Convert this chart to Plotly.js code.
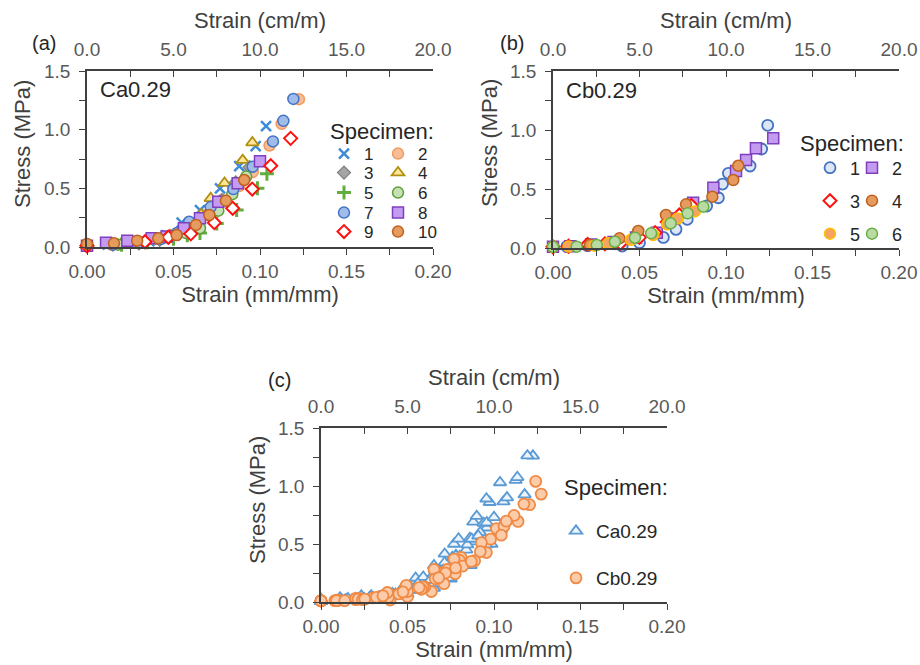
<!DOCTYPE html>
<html>
<head>
<meta charset="utf-8">
<script src="https://cdn.plot.ly/plotly-3.0.1.min.js"></script>
<style>html,body{margin:0;padding:0;background:#fff;}#chart{width:920px;height:665px;}</style>
</head>
<body>
<div id="chart"></div>
<script>
// ---------- Panel (a): Ca0.29, specimens 1-10 (strain mm/mm, stress MPa) ----------
const a1x = [0, 0.012, 0.025, 0.036, 0.046, 0.0547, 0.0653, 0.0769, 0.088, 0.0975, 0.1035];
const a1y = [0.01, 0.02, 0.03, 0.05, 0.10, 0.207, 0.315, 0.50, 0.69, 0.86, 1.03];
const a2x = [0, 0.014, 0.028, 0.040, 0.050, 0.060, 0.068, 0.078, 0.088, 0.0958, 0.1055, 0.1125, 0.1225];
const a2y = [0.01, 0.02, 0.04, 0.07, 0.10, 0.17, 0.27, 0.40, 0.52, 0.64, 0.865, 1.05, 1.26];
const a3x = [0, 0.015, 0.030, 0.042, 0.053, 0.062, 0.070, 0.078, 0.086, 0.094];
const a3y = [0.01, 0.02, 0.03, 0.06, 0.11, 0.18, 0.28, 0.40, 0.55, 0.68];
const a4x = [0, 0.020, 0.035, 0.048, 0.058, 0.066, 0.0715, 0.0795, 0.090, 0.0956];
const a4y = [0.01, 0.03, 0.05, 0.10, 0.18, 0.28, 0.415, 0.545, 0.74, 0.89];
const a5x = [0, 0.020, 0.035, 0.050, 0.058, 0.0653, 0.075, 0.0865, 0.0985, 0.104];
const a5y = [0.01, 0.02, 0.04, 0.07, 0.10, 0.12, 0.20, 0.315, 0.50, 0.625];
const a6x = [0, 0.018, 0.033, 0.047, 0.057, 0.0653, 0.0759, 0.084, 0.092];
const a6y = [0.01, 0.02, 0.04, 0.08, 0.12, 0.16, 0.31, 0.45, 0.60];
const a7x = [0, 0.015, 0.030, 0.043, 0.052, 0.0591, 0.0715, 0.0846, 0.0958, 0.1075, 0.1135, 0.1193];
const a7y = [0.01, 0.02, 0.04, 0.07, 0.12, 0.215, 0.34, 0.494, 0.685, 0.90, 1.075, 1.262];
const a8x = [0, 0.011, 0.0233, 0.0374, 0.046, 0.056, 0.0653, 0.0759, 0.0871, 0.100];
const a8y = [0.01, 0.037, 0.054, 0.074, 0.09, 0.159, 0.245, 0.386, 0.543, 0.73];
const a9x = [0, 0.0335, 0.047, 0.060, 0.0736, 0.0842, 0.0955, 0.1062, 0.1177];
const a9y = [0.01, 0.045, 0.083, 0.112, 0.207, 0.33, 0.494, 0.693, 0.926];
const a10x = [0, 0.0156, 0.029, 0.0412, 0.0518, 0.063, 0.0707, 0.0803, 0.0909];
const a10y = [0.026, 0.031, 0.054, 0.074, 0.102, 0.188, 0.273, 0.395, 0.571];

// ---------- Panel (b): Cb0.29, specimens 1-6 ----------
const b1x = [0, 0.008, 0.020, 0.040, 0.050, 0.0638, 0.0711, 0.0776, 0.0888, 0.0956, 0.098, 0.1014, 0.1139, 0.1206, 0.1241];
const b1y = [0.01, 0.012, 0.02, 0.017, 0.045, 0.09, 0.158, 0.243, 0.356, 0.426, 0.542, 0.633, 0.695, 0.839, 1.04];
const b2x = [0, 0.010, 0.022, 0.035, 0.048, 0.060, 0.070, 0.081, 0.0927, 0.1058, 0.1116, 0.1173, 0.1273];
const b2y = [0.01, 0.015, 0.03, 0.05, 0.09, 0.13, 0.25, 0.384, 0.511, 0.653, 0.746, 0.845, 0.93];
const b3x = [0, 0.009, 0.020, 0.030, 0.039, 0.050, 0.059, 0.066, 0.073, 0.080];
const b3y = [0.01, 0.015, 0.03, 0.035, 0.04, 0.09, 0.13, 0.22, 0.28, 0.36];
const b4x = [0, 0.0214, 0.0384, 0.0493, 0.0653, 0.0769, 0.0921, 0.1042, 0.1071];
const b4y = [0.01, 0.025, 0.082, 0.144, 0.28, 0.37, 0.435, 0.576, 0.697];
const b5x = [0, 0.009, 0.024, 0.032, 0.045, 0.058, 0.066, 0.072, 0.082];
const b5y = [0.01, 0.012, 0.02, 0.04, 0.07, 0.11, 0.20, 0.25, 0.31];
const b6x = [0, 0.0137, 0.0253, 0.0358, 0.0474, 0.0567, 0.068, 0.0778, 0.0869];
const b6y = [0.01, 0.011, 0.025, 0.053, 0.087, 0.124, 0.209, 0.294, 0.35];

// ---------- labels ----------
const specA = ['1','2','3','4','5','6','7','8','9','10'];
const specB = ['1','2','3','4','5','6'];
const groupNames = ['Ca0.29', 'Cb0.29'];
const panelLabels = ['(a)', '(b)', '(c)'];
const topTitle = 'Strain (cm/m)';
const bottomTitle = 'Strain (mm/mm)';
const yTitle = 'Stress (MPa)';
const legendTitle = 'Specimen:';

// ---------- styles ----------
const FONT = 'Liberation Sans, Arial, sans-serif';
const W = 920, H = 665;
const px = v => v / W;
const py = v => 1 - v / H;

const aX = [a1x,a2x,a3x,a4x,a5x,a6x,a7x,a8x,a9x,a10x];
const aY = [a1y,a2y,a3y,a4y,a5y,a6y,a7y,a8y,a9y,a10y];
const bX = [b1x,b2x,b3x,b4x,b5x,b6x];
const bY = [b1y,b2y,b3y,b4y,b5y,b6y];

const aStyle = [
  {symbol:'x-thin', size:10, color:'#3E8BD8', line:{color:'#3E8BD8', width:2.5}},
  {symbol:'circle', size:11, color:'#F7BD96', line:{color:'#F29B5E', width:1.5}},
  {symbol:'diamond', size:10, color:'#A5A5A5', line:{color:'#7F7F7F', width:1.2}},
  {symbol:'triangle-up', size:11, color:'#FFE699', line:{color:'#B08F10', width:1.8}},
  {symbol:'cross-thin', size:10, color:'#5FAE3E', line:{color:'#5FAE3E', width:3}},
  {symbol:'circle', size:11, color:'#C5E0B4', line:{color:'#5E9E3C', width:1.5}},
  {symbol:'circle', size:11, color:'#A0BDEA', line:{color:'#4472C4', width:1.5}},
  {symbol:'square', size:11, color:'#C39BF0', line:{color:'#7F3FBF', width:1.5}},
  {symbol:'diamond', size:10, color:'#FFFFFF', line:{color:'#FF1010', width:2}},
  {symbol:'circle', size:11, color:'#E59A5E', line:{color:'#C0601E', width:1.5}}
];
const bStyle = [
  {symbol:'circle', size:11, color:'#DCE6F5', line:{color:'#4472C4', width:1.8}},
  {symbol:'square', size:11, color:'#C39BF0', line:{color:'#7F3FBF', width:1.5}},
  {symbol:'diamond', size:10, color:'#FFFFFF', line:{color:'#FF1010', width:2}},
  {symbol:'circle', size:11, color:'#E59A5E', line:{color:'#C0601E', width:1.5}},
  {symbol:'circle', size:11, color:'#F4A460', line:{color:'#FFC000', width:1.5}},
  {symbol:'circle', size:11, color:'#B9DBA3', line:{color:'#6AAE45', width:1.5}}
];
const cStyle = [
  {symbol:'triangle-up', size:11, color:'#EEF4FB', line:{color:'#5B9BD5', width:1.8}},
  {symbol:'circle', size:11, color:'#FBCBAA', line:{color:'#F08A44', width:1.8}}
];

// legend slot positions (marker centre x, row centre y) in pixels
const aLegPos = [[344,154],[398,154],[344,173],[398,173],[344,193],[398,193],[344,213],[398,213],[344,232],[398,232]];
const bLegPos = [[830,168],[872,168],[830,201],[872,201],[830,234],[872,234]];
const cLegPos = [[576,531],[576,578]];

const traces = [];
const legends = {};
let legN = 0;
function nextLegend(pos, size) {
  legN += 1;
  const key = legN === 1 ? 'legend' : 'legend' + legN;
  legends[key] = {visible:true, x: px(pos[0] - 20), y: py(pos[1]), xanchor:'left', yanchor:'middle',
    bgcolor:'rgba(0,0,0,0)', borderwidth:0, font:{family:FONT, size:size, color:'#262626'},
    itemclick:false, itemdoubleclick:false};
  return key;
}
aX.forEach((xs, i) => {
  traces.push({type:'scatter', mode:'markers', x: xs, y: aY[i], name: specA[i],
    xaxis:'x', yaxis:'y', cliponaxis:false, marker: aStyle[i], showlegend:true,
    legend: nextLegend(aLegPos[i], 17)});
});
bX.forEach((xs, i) => {
  traces.push({type:'scatter', mode:'markers', x: xs, y: bY[i], name: specB[i],
    xaxis:'x3', yaxis:'y2', cliponaxis:false, marker: bStyle[i], showlegend:true,
    legend: nextLegend(bLegPos[i], 18)});
});
const caX = [].concat(...aX), caY = [].concat(...aY);
const cbX = [].concat(...bX), cbY = [].concat(...bY);
traces.push({type:'scatter', mode:'markers', x: caX, y: caY, name: groupNames[0], showlegend:true,
  xaxis:'x5', yaxis:'y3', cliponaxis:false, marker: cStyle[0], legend: nextLegend(cLegPos[0], 19)});
traces.push({type:'scatter', mode:'markers', x: cbX, y: cbY, name: groupNames[1], showlegend:true,
  xaxis:'x5', yaxis:'y3', cliponaxis:false, marker: cStyle[1], legend: nextLegend(cLegPos[1], 19)});
// empty traces so the top (cm/m) axes exist
['x2','x4','x6'].forEach((xa, k) => {
  traces.push({type:'scatter', mode:'markers', x: [], y: [], xaxis: xa, yaxis: ['y','y2','y3'][k], showlegend:false, hoverinfo:'skip'});
});

const AXC = '#404040';
const TICKC = '#595959';
function bottomAxis(dom, anchor) {
  return {domain: dom, anchor: anchor, range:[0,0.2], dtick:0.05, tick0:0, tickformat:'.2f',
    showgrid:false, zeroline:false, showline:true, linecolor:AXC, linewidth:1.5,
    ticks:'outside', ticklen:6, tickcolor:AXC, tickwidth:1.2,
    minor:{dtick:0.025, ticks:'outside', ticklen:6, tickcolor:AXC, tickwidth:1.2, showgrid:false},
    tickfont:{family:FONT, size:19, color:TICKC},
    title:{text: bottomTitle, font:{family:FONT, size:22, color:AXC}, standoff:1},
    fixedrange:true};
}
function topAxis(over, anchor) {
  return {overlaying: over, anchor: anchor, side:'top', range:[0,20], dtick:5, tick0:0, tickformat:'.1f',
    showgrid:false, zeroline:false, showline:true, linecolor:AXC, linewidth:1.5,
    ticks:'inside', ticklen:6, tickcolor:AXC, tickwidth:1.2,
    minor:{dtick:2.5, ticks:'inside', ticklen:6, tickcolor:AXC, tickwidth:1.2, showgrid:false},
    tickfont:{family:FONT, size:19, color:TICKC}, ticklabelstandoff:6,
    title:{text: topTitle, font:{family:FONT, size:22, color:AXC}, standoff:4},
    fixedrange:true};
}
function leftAxis(dom, anchor) {
  return {domain: dom, anchor: anchor, range:[0,1.5], dtick:0.5, tick0:0, tickformat:'.1f',
    showgrid:false, zeroline:false, showline:true, linecolor:AXC, linewidth:1.5,
    ticks:'outside', ticklen:6, tickcolor:AXC, tickwidth:1.2,
    minor:{dtick:0.25, ticks:'outside', ticklen:6, tickcolor:AXC, tickwidth:1.2, showgrid:false},
    tickfont:{family:FONT, size:19, color:TICKC}, ticklabelstandoff:5,
    fixedrange:true};
}

const ann = (text, xp, yp, size, xanchor, angle, color) => ({text: text, x: px(xp), y: py(yp), xref:'paper', yref:'paper',
  xanchor: xanchor || 'left', yanchor:'middle', showarrow:false, textangle: angle || 0,
  font:{family:FONT, size:size, color: color || '#262626'}});

const layout = Object.assign({
  width: W, height: H, margin:{l:0, r:0, t:0, b:0},
  showlegend: true,
  paper_bgcolor:'#ffffff', plot_bgcolor:'rgba(0,0,0,0)',
  font:{family:FONT, color:AXC},
  xaxis: bottomAxis([px(87), px(433)], 'y'),
  xaxis2: topAxis('x', 'y'),
  yaxis: leftAxis([py(247), py(71)], 'x'),
  xaxis3: bottomAxis([px(553), px(899)], 'y2'),
  xaxis4: topAxis('x3', 'y2'),
  yaxis2: leftAxis([py(248), py(71)], 'x3'),
  xaxis5: bottomAxis([px(321), px(667)], 'y3'),
  xaxis6: topAxis('x5', 'y3'),
  yaxis3: leftAxis([py(602), py(428)], 'x5'),
  annotations: [
    ann(panelLabels[0], 44, 43, 20, 'center'),
    ann(panelLabels[1], 512, 43, 20, 'center'),
    ann(panelLabels[2], 279, 380, 20, 'center'),
    ann(yTitle, 23, 144, 22, 'center', -90, AXC),
    ann(yTitle, 489, 143, 22, 'center', -90, AXC),
    ann(yTitle, 257, 500, 22, 'center', -90, AXC),
    ann(groupNames[0], 98, 89, 22),
    ann(groupNames[1], 564, 91, 22),
    ann(legendTitle, 328, 132, 22),
    ann(legendTitle, 798, 143, 22),
    ann(legendTitle, 562, 487, 22)
  ]
}, legends);

Plotly.newPlot('chart', traces, layout, {displayModeBar:false, responsive:false});
</script>
</body>
</html>
